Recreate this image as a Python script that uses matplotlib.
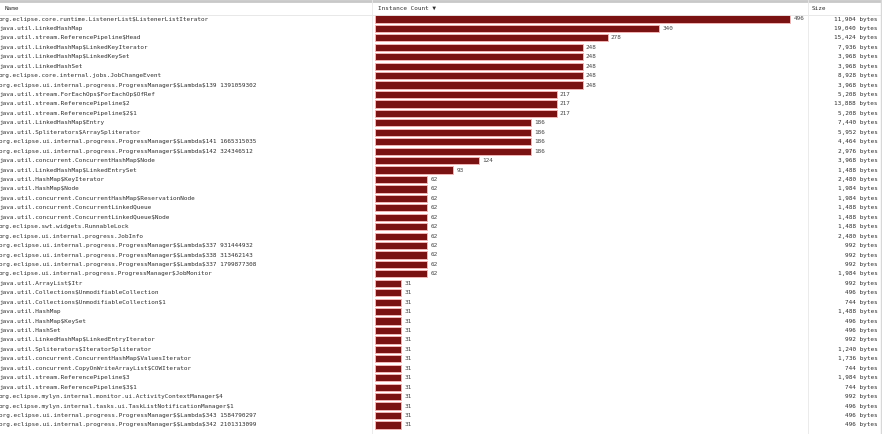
import matplotlib
matplotlib.use("Agg")
import matplotlib.pyplot as plt
from matplotlib.transforms import blended_transform_factory
from matplotlib.lines import Line2D

plt.rcParams["text.parse_math"] = False
plt.rcParams["font.family"] = ["DejaVu Sans Mono", "DejaVu Sans"]

names = [
    "org.eclipse.core.runtime.ListenerList$ListenerListIterator",
    "java.util.LinkedHashMap",
    "java.util.stream.ReferencePipeline$Head",
    "java.util.LinkedHashMap$LinkedKeyIterator",
    "java.util.LinkedHashMap$LinkedKeySet",
    "java.util.LinkedHashSet",
    "org.eclipse.core.internal.jobs.JobChangeEvent",
    "org.eclipse.ui.internal.progress.ProgressManager$$Lambda$139 1391059302",
    "java.util.stream.ForEachOps$ForEachOp$OfRef",
    "java.util.stream.ReferencePipeline$2",
    "java.util.stream.ReferencePipeline$2$1",
    "java.util.LinkedHashMap$Entry",
    "java.util.Spliterators$ArraySpliterator",
    "org.eclipse.ui.internal.progress.ProgressManager$$Lambda$141 1665315035",
    "org.eclipse.ui.internal.progress.ProgressManager$$Lambda$142 324346512",
    "java.util.concurrent.ConcurrentHashMap$Node",
    "java.util.LinkedHashMap$LinkedEntrySet",
    "java.util.HashMap$KeyIterator",
    "java.util.HashMap$Node",
    "java.util.concurrent.ConcurrentHashMap$ReservationNode",
    "java.util.concurrent.ConcurrentLinkedQueue",
    "java.util.concurrent.ConcurrentLinkedQueue$Node",
    "org.eclipse.swt.widgets.RunnableLock",
    "org.eclipse.ui.internal.progress.JobInfo",
    "org.eclipse.ui.internal.progress.ProgressManager$$Lambda$337 931444932",
    "org.eclipse.ui.internal.progress.ProgressManager$$Lambda$338 313462143",
    "org.eclipse.ui.internal.progress.ProgressManager$$Lambda$337 1799877308",
    "org.eclipse.ui.internal.progress.ProgressManager$JobMonitor",
    "java.util.ArrayList$Itr",
    "java.util.Collections$UnmodifiableCollection",
    "java.util.Collections$UnmodifiableCollection$1",
    "java.util.HashMap",
    "java.util.HashMap$KeySet",
    "java.util.HashSet",
    "java.util.LinkedHashMap$LinkedEntryIterator",
    "java.util.Spliterators$IteratorSpliterator",
    "java.util.concurrent.ConcurrentHashMap$ValuesIterator",
    "java.util.concurrent.CopyOnWriteArrayList$COWIterator",
    "java.util.stream.ReferencePipeline$3",
    "java.util.stream.ReferencePipeline$3$1",
    "org.eclipse.mylyn.internal.monitor.ui.ActivityContextManager$4",
    "org.eclipse.mylyn.internal.tasks.ui.TaskListNotificationManager$1",
    "org.eclipse.ui.internal.progress.ProgressManager$$Lambda$343 1584790297",
    "org.eclipse.ui.internal.progress.ProgressManager$$Lambda$342 2101313099",
]
counts = [496, 340, 278, 248, 248, 248, 248, 248, 217, 217, 217, 186, 186, 186, 186,
          124, 93, 62, 62, 62, 62, 62, 62, 62, 62, 62, 62, 62,
          31, 31, 31, 31, 31, 31, 31, 31, 31, 31, 31, 31, 31, 31, 31, 31]
sizes = ["11,904", "19,040", "15,424", "7,936", "3,968", "3,968", "8,928", "3,968",
         "5,208", "13,888", "5,208", "7,440", "5,952", "4,464", "2,976", "3,968",
         "1,488", "2,480", "1,984", "1,984", "1,488", "1,488", "1,488", "2,480",
         "992", "992", "992", "1,984", "992", "496", "744", "1,488", "496", "496",
         "992", "1,240", "1,736", "744", "1,984", "744", "992", "496", "496", "496"]
headers = ["Name", "Instance Count \u25bc", "Size"]

W, H = 882, 434
fig = plt.figure(figsize=(W / 100, H / 100), dpi=100)
fig.patch.set_facecolor("white")

def fx(px):
    return px / W

def fy(py):
    return 1 - py / H

row0, step = 19.0, 9.44
top_px, bot_px = 14.0, 434.0
bar_left, bar_right = 375.0, 808.0
px_per_unit = 415.0 / 496.0
fs = 4.3

ax = fig.add_axes([fx(bar_left), fy(bot_px), (bar_right - bar_left) / W, (bot_px - top_px) / H])
ax.set_xlim(0, (bar_right - bar_left) / px_per_unit)
ax.set_ylim((bot_px - row0) / step, (top_px - row0) / step)
ax.axis("off")

txt = "#2e2e2e"
ypos = list(range(len(counts)))
ax.barh(ypos, counts, height=0.76, color="#7a1212", edgecolor="#f2b4b4", linewidth=0.7)
for y, c in zip(ypos, counts):
    ax.text(c + 4, y, str(c), fontsize=fs, color="#444444", va="center", ha="left")

tr = blended_transform_factory(fig.transFigure, ax.transData)
for y, n, s in zip(ypos, names, sizes):
    fig.text(fx(-1), y, n, fontsize=fs, color=txt, va="center", ha="left", transform=tr)
    fig.text(fx(878), y, s + " bytes", fontsize=fs, color=txt, va="center",
             ha="right", transform=tr)

# header
fig.text(fx(5), fy(8), headers[0], fontsize=fs, color=txt, va="center")
fig.text(fx(378), fy(8), headers[1], fontsize=fs, color=txt, va="center")
fig.text(fx(812), fy(8), headers[2], fontsize=fs, color=txt, va="center")

# grid / borders
fig.add_artist(Line2D([0, 1], [fy(1), fy(1)], color="#c8c8c8", linewidth=2.0))
fig.add_artist(Line2D([0, 1], [fy(14.5), fy(14.5)], color="#e4e4e4", linewidth=0.6))
for xv in (372, 808):
    fig.add_artist(Line2D([fx(xv), fx(xv)], [fy(0), fy(434)], color="#e8e8e8", linewidth=0.6))
fig.add_artist(Line2D([fx(880.5), fx(880.5)], [fy(0), fy(434)], color="#d8d8d8", linewidth=1.0))

fig.savefig("out.png", dpi=100, facecolor="white")
